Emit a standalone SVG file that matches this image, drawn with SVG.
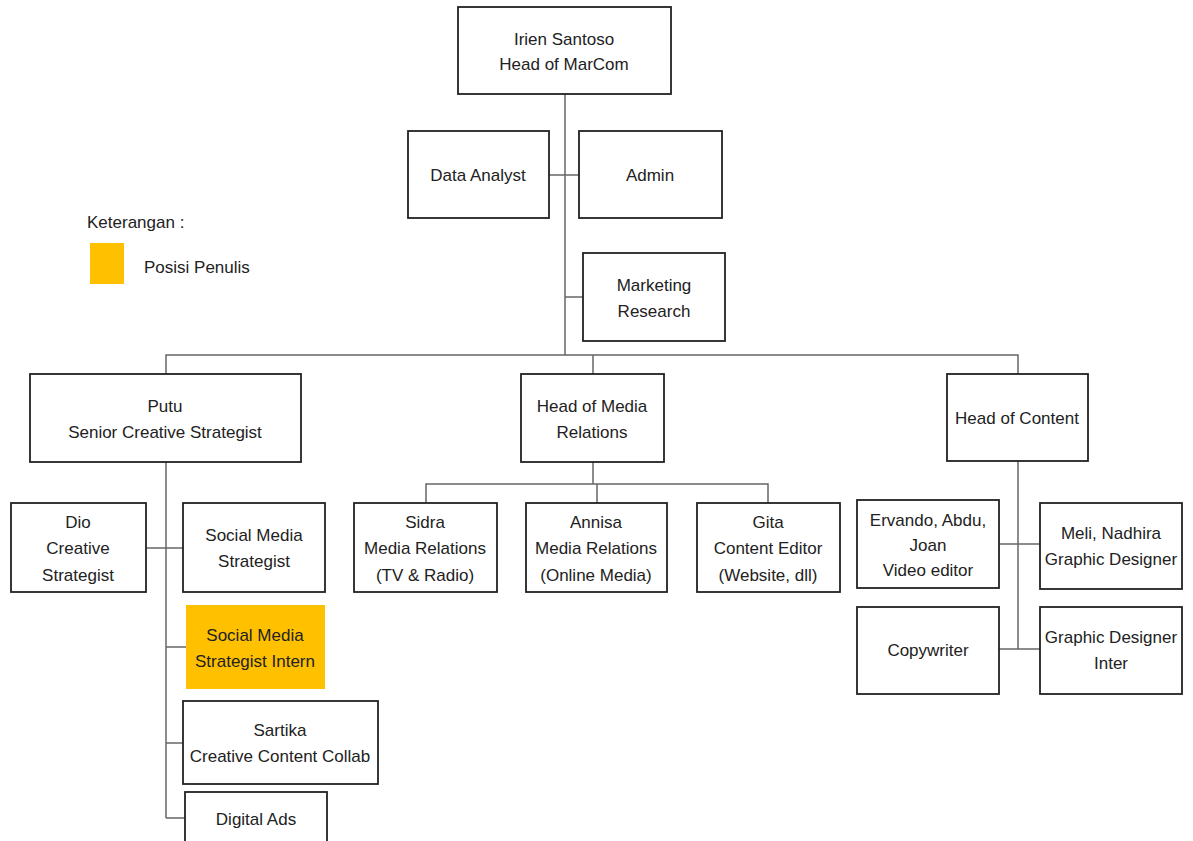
<svg xmlns="http://www.w3.org/2000/svg" width="1193" height="841" viewBox="0 0 1193 841">
<style>
.b{fill:#fff;stroke:#222;stroke-width:1.8}
.h{fill:#FFC000;stroke:none}
text{font-family:"Liberation Sans",Arial,sans-serif;font-size:17px;fill:#222;text-anchor:middle;dominant-baseline:central}
.l{text-anchor:start}
.c line,.c path{stroke:#666;stroke-width:1.5;fill:none}
</style>
<rect width="1193" height="841" fill="#fff"/>
<g class="c" id="connectors">
<line x1="565" y1="94" x2="565" y2="355"/>
<line x1="549" y1="175" x2="579" y2="175"/>
<line x1="565" y1="297" x2="583" y2="297"/>
<path d="M166 374 V355 H1018 V374"/>
<line x1="593" y1="355" x2="593" y2="374"/>
<line x1="166" y1="462" x2="166" y2="818"/>
<line x1="146" y1="548" x2="183" y2="548"/>
<line x1="166" y1="647" x2="186" y2="647"/>
<line x1="166" y1="743" x2="183" y2="743"/>
<line x1="166" y1="818" x2="185" y2="818"/>
<line x1="593" y1="462" x2="593" y2="484"/>
<path d="M426 503 V484 H768 V503"/>
<line x1="597" y1="484" x2="597" y2="503"/>
<line x1="1018" y1="461" x2="1018" y2="649"/>
<line x1="999" y1="544" x2="1040" y2="544"/>
<line x1="999" y1="649" x2="1040" y2="649"/>
</g>
<g id="legend">
<text class="l" x="87" y="222">Keterangan :</text>
<rect class="h" x="90" y="243" width="34" height="41"/>
<text class="l" x="144" y="267">Posisi Penulis</text>
</g>
<g id="head"><rect class="b" x="458" y="7" width="213" height="87"/><text x="564" y="39">Irien Santoso</text><text x="564" y="64">Head of MarCom</text></g>
<g id="data-analyst"><rect class="b" x="408" y="131" width="141" height="87"/><text x="478" y="175">Data Analyst</text></g>
<g id="admin"><rect class="b" x="579" y="131" width="143" height="87"/><text x="650" y="175">Admin</text></g>
<g id="marketing-research"><rect class="b" x="583" y="253" width="142" height="88"/><text x="654" y="285">Marketing</text><text x="654" y="311">Research</text></g>
<g id="putu"><rect class="b" x="30" y="374" width="271" height="88"/><text x="165" y="406">Putu</text><text x="165" y="432">Senior Creative Strategist</text></g>
<g id="head-media"><rect class="b" x="521" y="374" width="143" height="88"/><text x="592" y="406">Head of Media</text><text x="592" y="432">Relations</text></g>
<g id="head-content"><rect class="b" x="947" y="374" width="141" height="87"/><text x="1017" y="418">Head of Content</text></g>
<g id="dio"><rect class="b" x="11" y="503" width="135" height="89"/><text x="78" y="522">Dio</text><text x="78" y="548">Creative</text><text x="78" y="575">Strategist</text></g>
<g id="sms"><rect class="b" x="183" y="503" width="142" height="89"/><text x="254" y="535">Social Media</text><text x="254" y="561">Strategist</text></g>
<g id="intern"><rect class="h" x="186" y="605" width="139" height="84"/><text x="255" y="635">Social Media</text><text x="255" y="661">Strategist Intern</text></g>
<g id="sartika"><rect class="b" x="183" y="701" width="195" height="83"/><text x="280" y="730">Sartika</text><text x="280" y="756">Creative Content Collab</text></g>
<g id="digital-ads"><rect class="b" x="185" y="792" width="142" height="60"/><text x="256" y="819">Digital Ads</text></g>
<g id="sidra"><rect class="b" x="354" y="503" width="143" height="89"/><text x="425" y="522">Sidra</text><text x="425" y="548">Media Relations</text><text x="425" y="575">(TV &amp; Radio)</text></g>
<g id="annisa"><rect class="b" x="526" y="503" width="141" height="89"/><text x="596" y="522">Annisa</text><text x="596" y="548">Media Relations</text><text x="596" y="575">(Online Media)</text></g>
<g id="gita"><rect class="b" x="697" y="503" width="143" height="89"/><text x="768" y="522">Gita</text><text x="768" y="548">Content Editor</text><text x="768" y="575">(Website, dll)</text></g>
<g id="ervando"><rect class="b" x="857" y="500" width="142" height="88"/><text x="928" y="520">Ervando, Abdu,</text><text x="928" y="545">Joan</text><text x="928" y="570">Video editor</text></g>
<g id="meli"><rect class="b" x="1040" y="503" width="142" height="86"/><text x="1111" y="533">Meli, Nadhira</text><text x="1111" y="559">Graphic Designer</text></g>
<g id="copywriter"><rect class="b" x="857" y="607" width="142" height="87"/><text x="928" y="650">Copywriter</text></g>
<g id="gd-inter"><rect class="b" x="1040" y="607" width="142" height="87"/><text x="1111" y="637">Graphic Designer</text><text x="1111" y="663">Inter</text></g>
</svg>
